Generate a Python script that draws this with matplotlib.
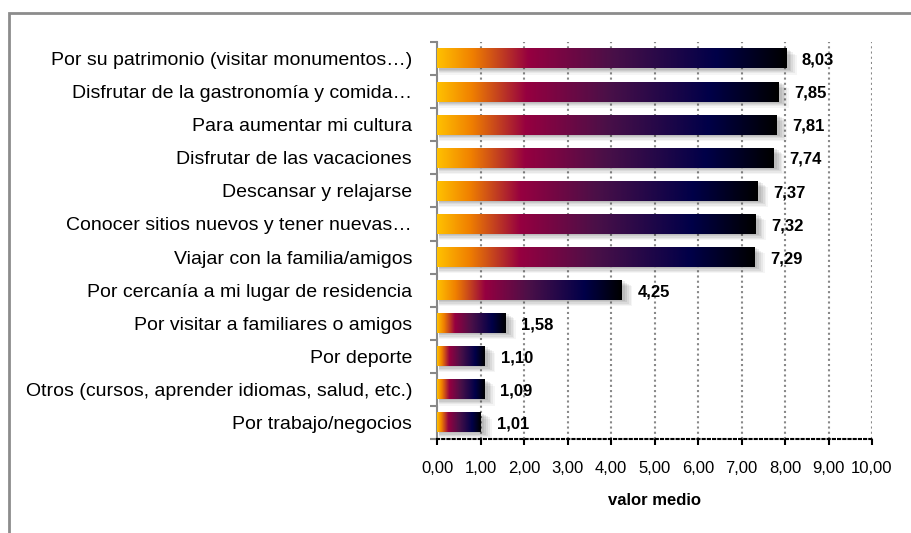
import numpy as np
import matplotlib
matplotlib.use("Agg")
import matplotlib.pyplot as plt
from matplotlib.colors import LinearSegmentedColormap
from matplotlib.patches import Rectangle

categories = [
    "Por su patrimonio (visitar monumentos…)",
    "Disfrutar de la gastronomía y comida…",
    "Para aumentar mi cultura",
    "Disfrutar de las vacaciones",
    "Descansar y relajarse",
    "Conocer sitios nuevos y tener nuevas…",
    "Viajar con la familia/amigos",
    "Por cercanía a mi lugar de residencia",
    "Por visitar a familiares o amigos",
    "Por deporte",
    "Otros (cursos, aprender idiomas, salud, etc.)",
    "Por trabajo/negocios",
]
values = [8.03, 7.85, 7.81, 7.74, 7.37, 7.32, 7.29, 4.25, 1.58, 1.10, 1.09, 1.01]
xticks = np.arange(0, 11, 1)
xlabel = "valor medio"

FONT = ["Liberation Sans Narrow", "Liberation Sans", "DejaVu Sans"]
plt.rcParams["font.family"] = FONT

cmap = LinearSegmentedColormap.from_list("bar", [
    (0.00, "#ffc000"),
    (0.10, "#f08000"),
    (0.26, "#960040"),
    (0.50, "#4a1048"),
    (0.80, "#000048"),
    (1.00, "#000000"),
])
grad = np.linspace(0, 1, 256).reshape(1, -1)

fig = plt.figure(figsize=(9.11, 5.33), dpi=100)
# outer frame
fig.patches.append(Rectangle((9 / 911, -0.05), 1.2, 1 - 13 / 533 + 0.05,
                             transform=fig.transFigure, fill=False,
                             edgecolor="#8c8c8c", linewidth=2))
ax = fig.add_axes([437 / 911, 1 - 439 / 533, 435 / 911, 397 / 533])

n = len(categories)
ys = np.arange(n)
h = 0.6
for y, v in zip(ys, values):
    # soft shadow
    for k, a in enumerate([0.07, 0.07, 0.06, 0.05, 0.04]):
        d = 0.025 + 0.03 * k
        ax.add_patch(Rectangle((0.04, y - h / 2 + d * 1.3), v + d * 1.4, h,
                               facecolor="black", alpha=a, edgecolor="none",
                               zorder=2))
    ax.imshow(grad, cmap=cmap, aspect="auto",
              extent=(0, v, y + h / 2, y - h / 2), zorder=3,
              interpolation="bilinear")
    ax.text(v + 0.36, y + 0.05, f"{v:.2f}".replace(".", ","),
            va="center", ha="left", fontsize=12, fontweight="bold", zorder=4)

ax.set_xlim(0, 10)
ax.set_ylim(n - 0.5, -0.5)
ax.set_xticks(xticks)
ax.set_xticklabels([f"{t:.2f}".replace(".", ",") for t in xticks], fontsize=12)
ax.set_yticks(ys)
ax.set_yticklabels(categories, fontsize=14)
ax.tick_params(axis="y", length=0, pad=18)
ax.set_yticks(np.arange(-0.5, n, 1), minor=True)
ax.tick_params(axis="y", which="minor", length=5, color="#888888", width=1.5)
ax.tick_params(axis="x", length=4, width=1.5, color="black", pad=12)
ax.set_xlabel(xlabel, fontsize=12, fontweight="bold", labelpad=12)

ax.grid(axis="x", linestyle=(0, (1, 1.5)), color="#888888", linewidth=1.5,
        zorder=0)
ax.set_axisbelow(True)
for s in ["top", "right"]:
    ax.spines[s].set_visible(False)
ax.spines["left"].set_color("#888888")
ax.spines["left"].set_linewidth(1.5)
ax.spines["bottom"].set_linestyle((0, (1, 1.5)))
ax.spines["bottom"].set_linewidth(1.5)
ax.spines["bottom"].set_color("black")

fig.savefig("out.png", dpi=100)
